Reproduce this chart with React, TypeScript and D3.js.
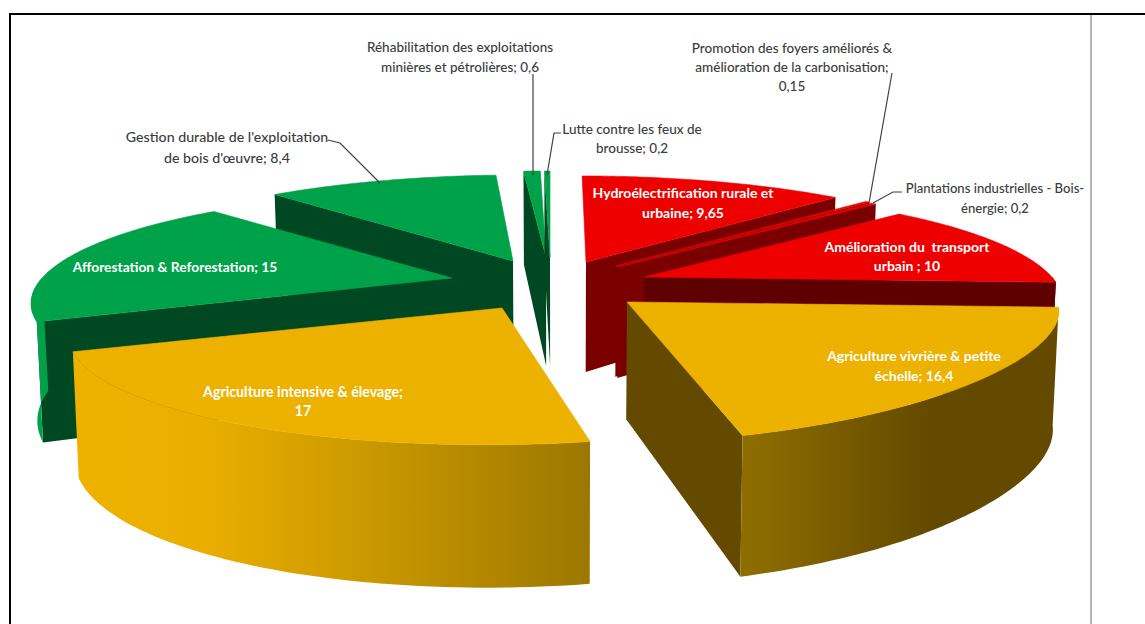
import React from "react";
import * as d3 from "d3";

// ---------- data ----------
const categories = [
  "Hydroélectrification rurale et urbaine",
  "Promotion des foyers améliorés & amélioration de la carbonisation",
  "Plantations industrielles - Bois-énergie",
  "Amélioration du transport urbain",
  "Agriculture vivrière & petite échelle",
  "Agriculture intensive & élevage",
  "Afforestation & Reforestation",
  "Gestion durable de l'exploitation de bois d'œuvre",
  "Réhabilitation des exploitations minières et pétrolières",
  "Lutte contre les feux de brousse",
];
const values = [9.65, 0.15, 0.2, 10, 16.4, 17, 15, 8.4, 0.6, 0.2];
const labelLines = [
  ["Hydroélectrification rurale et", "urbaine; 9,65"],
  ["Promotion des foyers améliorés &", "amélioration de la carbonisation;", "0,15"],
  ["Plantations industrielles - Bois-", "énergie; 0,2"],
  ["Amélioration du  transport", "urbain ; 10"],
  ["Agriculture vivrière & petite", "échelle; 16,4"],
  ["Agriculture intensive & élevage;", "17"],
  ["Afforestation & Reforestation; 15"],
  ["Gestion durable de l'exploitation", "de bois d'œuvre; 8,4"],
  ["Réhabilitation des exploitations", "minières et pétrolières; 0,6"],
  ["Lutte contre les feux de", "brousse; 0,2"],
];

// ---------- layout & style (per category, same order) ----------
const tips = [[586, 262], [616, 266], [618, 267], [644, 277], [627, 302], [502, 308], [452, 278], [513, 261], [546, 257], [550, 257]];
const scaleX = [0.975, 0.965, 0.965, 0.955, 1, 0.98, 0.96, 0.977, 1, 1];
const shear = [0.045, 0, 0, 0, 0.07, -0.12, 0, -0.058, 0, 0];
const sag = [0, 0, 0, 0, 0.07, 0, 0, 0, 0, 0];
const topColors = ["#ee0000", "#ee0000", "#ee0000", "#ee0000", "#edb100", "#edb100", "#00a249", "#00a249", "#00a249", "#00a249"];
const wallColors = ["#7a0000", "#7a0000", "#7a0000", "#5f0000", "#634a00", "#edb100", "#004822", "#004822", "#004822", "#004822"];
const outerFills = ["#7a0000", "#7a0000", "#7a0000", "#5f0000", "url(#gradViv)", "url(#gradInt)", "#00a249", "#00a249", "#00a249", "#00a249"];
const labelCenters = [[683, 193], [792, 48], [995, 188], [907, 247], [914, 356], [303, 392], [175, 267], [227, 137], [460, 47], [632, 129]];
const lineGaps = [20, 19, 20, 19, 20, 19, 0, 21, 20, 19];
const labelSizes = [14, 13.5, 13.1, 14, 14, 14.2, 13.8, 14.2, 13.5, 13.5];
const whiteLabels = [true, false, false, true, true, true, true, false, false, false];
const leaders: [number, number][][] = [
  [], [[892, 73], [869, 203]], [[902, 192], [893, 192], [873, 203]], [], [], [], [],
  [[328, 140], [340, 143], [380, 183]], [[533, 74], [533, 175]], [[561, 133], [554, 133], [547, 175]],
];
const paintOrder = [7, 6, 8, 9, 0, 1, 2, 3, 5, 4];

const RH = 427, RV = 105.6, PERSP = 0.228;

const arcsData = d3.pie<number>().sort(null).startAngle(0).endAngle(2 * Math.PI)(values);

function project(i: number, a: number, t: number): [number, number] {
  const s = 1 / (1 + PERSP * Math.cos(a));
  const k = 1 - sag[i] * Math.sin(Math.PI * t);
  const dy = -RV * Math.cos(a) * s * k;
  const dx = RH * scaleX[i] * Math.sin(a) * s * k + shear[i] * dy;
  return [tips[i][0] + dx, tips[i][1] + dy];
}
function extrude([x, y]: [number, number]): [number, number] {
  return [x + (560 - x) * 0.012, y + 110 + (y - 262) * 0.18];
}
const line = d3.line<[number, number]>();

function Slice({ i }: { i: number }) {
  const { startAngle: a0, endAngle: a1 } = arcsData[i];
  const at = (a: number) => project(i, a, (a - a0) / (a1 - a0));
  const tip = tips[i] as [number, number];
  const steps = d3.range(0, 61).map((n) => a0 + ((a1 - a0) * n) / 60);
  const rim = steps.map(at);
  const lo = Math.max(a0, Math.PI / 2), hi = Math.min(a1, 1.5 * Math.PI);
  const frontRim =
    hi > lo ? d3.range(0, 61).map((n) => at(lo + ((hi - lo) * n) / 60)) : [];
  const quad = (p: [number, number]) => line([tip, p, extrude(p), extrude(tip)]) + "Z";
  return (
    <g>
      {Math.sin(a0) < 0 && <path d={quad(at(a0))} fill={wallColors[i]} />}
      {Math.sin(a1) > 0 && <path d={quad(at(a1))} fill={wallColors[i]} />}
      {frontRim.length > 0 && (
        <path d={line([...frontRim, ...frontRim.map(extrude).reverse()]) + "Z"} fill={outerFills[i]} />
      )}
      <path d={line([tip, ...rim]) + "Z"} fill={topColors[i]} stroke={topColors[i]} strokeWidth={0.6} />
    </g>
  );
}

function Label({ i }: { i: number }) {
  const [cx, cy] = labelCenters[i];
  return (
    <text
      textAnchor="middle"
      fontFamily="Lato, sans-serif"
      fontSize={labelSizes[i]}
      fontWeight={whiteLabels[i] ? 700 : 500}
      fill={whiteLabels[i] ? "#ffffff" : "#3c3c3c"}
      aria-label={categories[i]}
    >
      {labelLines[i].map((l, n) => (
        <tspan key={n} x={cx} y={cy + 4.5 + n * lineGaps[i]} xmlSpace="preserve">
          {l}
        </tspan>
      ))}
    </text>
  );
}

export default function App() {
  return (
    <svg width={1145} height={624} style={{ position: "fixed", left: 0, top: 0, background: "#fff" }}>
      <defs>
        <linearGradient id="gradInt" gradientUnits="userSpaceOnUse" x1={120} x2={591} y1={0} y2={0}>
          <stop offset="0" stopColor="#edb100" />
          <stop offset="0.2" stopColor="#e8ad00" />
          <stop offset="0.55" stopColor="#c89700" />
          <stop offset="1" stopColor="#9c7700" />
        </linearGradient>
        <linearGradient id="gradViv" gradientUnits="userSpaceOnUse" x1={742} x2={1056} y1={0} y2={0}>
          <stop offset="0" stopColor="#8f6e00" />
          <stop offset="0.6" stopColor="#634a00" />
          <stop offset="1" stopColor="#634a00" />
        </linearGradient>
      </defs>
      <line x1={10} x2={1145} y1={14} y2={14} stroke="#000" strokeWidth={2} />
      <line x1={10} x2={10} y1={13} y2={624} stroke="#000" strokeWidth={2} />
      <line x1={1091} x2={1091} y1={15} y2={624} stroke="#b5b5b5" strokeWidth={2} />
      {paintOrder.map((i) => (
        <Slice key={i} i={i} />
      ))}
      {leaders.map((pts, i) =>
        pts.length ? <path key={i} d={line(pts) as string} fill="none" stroke="#404040" strokeWidth={1.2} /> : null
      )}
      {values.map((_, i) => (
        <Label key={i} i={i} />
      ))}
    </svg>
  );
}
